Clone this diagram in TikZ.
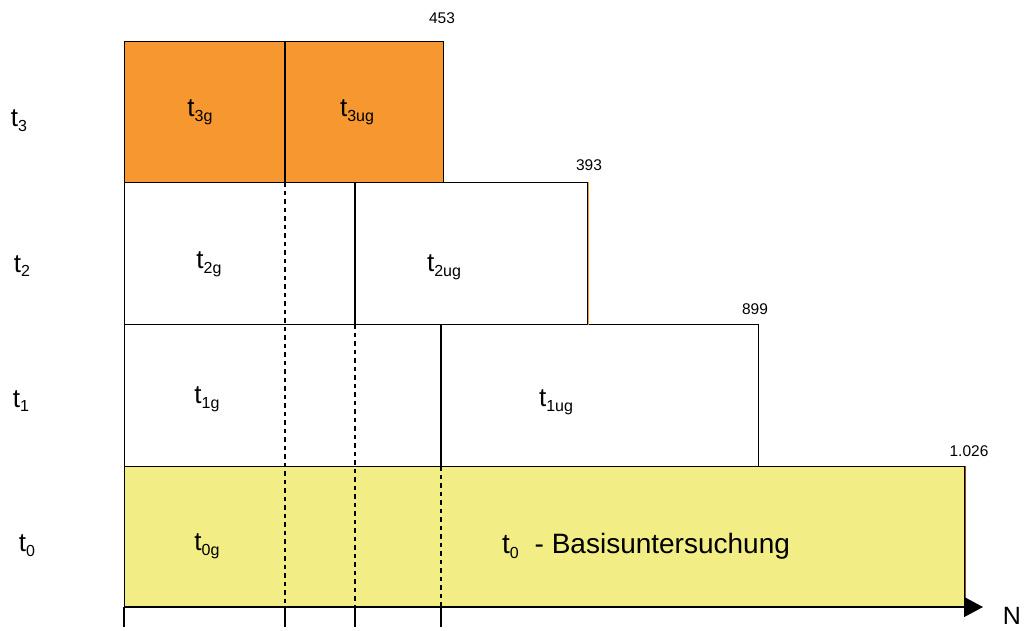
\documentclass[tikz,border=0pt]{standalone}
\usepackage{fontspec}
\setmainfont{Liberation Sans}
\usetikzlibrary{arrows.meta}
\definecolor{waveorange}{HTML}{F6972F}
\definecolor{baseyellow}{HTML}{F2EE85}
\definecolor{edgebrown}{HTML}{8A4A10}
% letter t with a lowered index in smaller type
\newcommand\ts[1]{t\raisebox{-0.18em}{\fontsize{16}{16}\selectfont #1}}
\tikzset{
  rowbox/.style={draw=black, line width=1pt, anchor=north west, inner sep=0pt},
  divider/.style={line width=1.2pt},
  guide/.style={line width=1.2pt, dash pattern=on 4.5pt off 4pt},
  lbl/.style={font=\fontsize{26}{30}\selectfont, inner sep=0pt},
  biglbl/.style={font=\fontsize{28}{32}\selectfont, inner sep=0pt},
  num/.style={font=\fontsize{15.5}{18}\selectfont, inner sep=0pt},
  tick/.style={line width=1.2pt},
}
\begin{document}
\begin{tikzpicture}[x=1pt, y=-1pt]
\useasboundingbox (0,0) rectangle (1028,630);

% rows: t0 (base) to t3 (latest wave)
\node[rowbox, fill=baseyellow, minimum width=840pt, minimum height=140pt] (r0) at (124,466) {};
\node[rowbox, fill=white, minimum width=634pt, minimum height=142pt] (r1) at (124,324) {};
\node[rowbox, fill=white, minimum width=463pt, minimum height=142pt] (r2) at (124,182) {};
\node[rowbox, fill=waveorange, minimum width=319pt, minimum height=141pt] (r3) at (124,41) {};

% coloured right edges
\draw[edgebrown, line width=1pt] (r0.north east) -- (r0.south east);
\draw[waveorange, line width=0.6pt] (r2.north east) -- (r2.south east);

% panel boundaries
\coordinate (c3) at (285,41);
\coordinate (c2) at (355,182);
\coordinate (c1) at (441,324);
\coordinate (b3) at (285,606);
\coordinate (b2) at (355,606);
\coordinate (b1) at (441,606);
\draw[divider] (c3) -- (285,182);
\draw[divider] (c2) -- (355,324);
\draw[divider] (c1) -- (441,466);
\draw[guide] (285,182) -- (b3);
\draw[guide] (355,324) -- (b2);
\draw[guide] (441,466) -- (b1);

% axis
\coordinate (a0) at (124,607);
\coordinate (aN) at (983,607);
\draw[line width=1.2pt, -{Triangle[length=19pt, width=20pt]}] (a0) -- (aN);
\foreach \xx in {124,285,355,441}
  \draw[tick] (\xx,607) -- (\xx,627);
\node[lbl, font=\fontsize{25}{28}\selectfont] (n) at (1012,616) {N};

% row labels
\node[lbl] (l3) at (19,121) {\ts{3}};
\node[lbl] (l2) at (22,266) {\ts{2}};
\node[lbl] (l1) at (21,401) {\ts{1}};
\node[lbl] (l0) at (27,546) {\ts{0}};

% cell labels
\node[lbl] (t3g) at (200,112) {\ts{3g}};
\node[lbl] (t3ug) at (357,112) {\ts{3ug}};
\node[lbl] (t2g) at (209,264) {\ts{2g}};
\node[lbl] (t2ug) at (444,267) {\ts{2ug}};
\node[lbl] (t1g) at (207,399) {\ts{1g}};
\node[lbl] (t1ug) at (556,402) {\ts{1ug}};
\node[lbl] (t0g) at (207,546) {\ts{0g}};
\node[biglbl] (t0b) at (646,546) {\ts{0}\hspace{16pt}- Basisuntersuchung};

% sample sizes
\node[num] (s3) at (442,18) {453};
\node[num] (s2) at (589,165) {393};
\node[num] (s1) at (755,309) {899};
\node[num] (s0) at (969,451) {1.026};
\end{tikzpicture}
\end{document}
